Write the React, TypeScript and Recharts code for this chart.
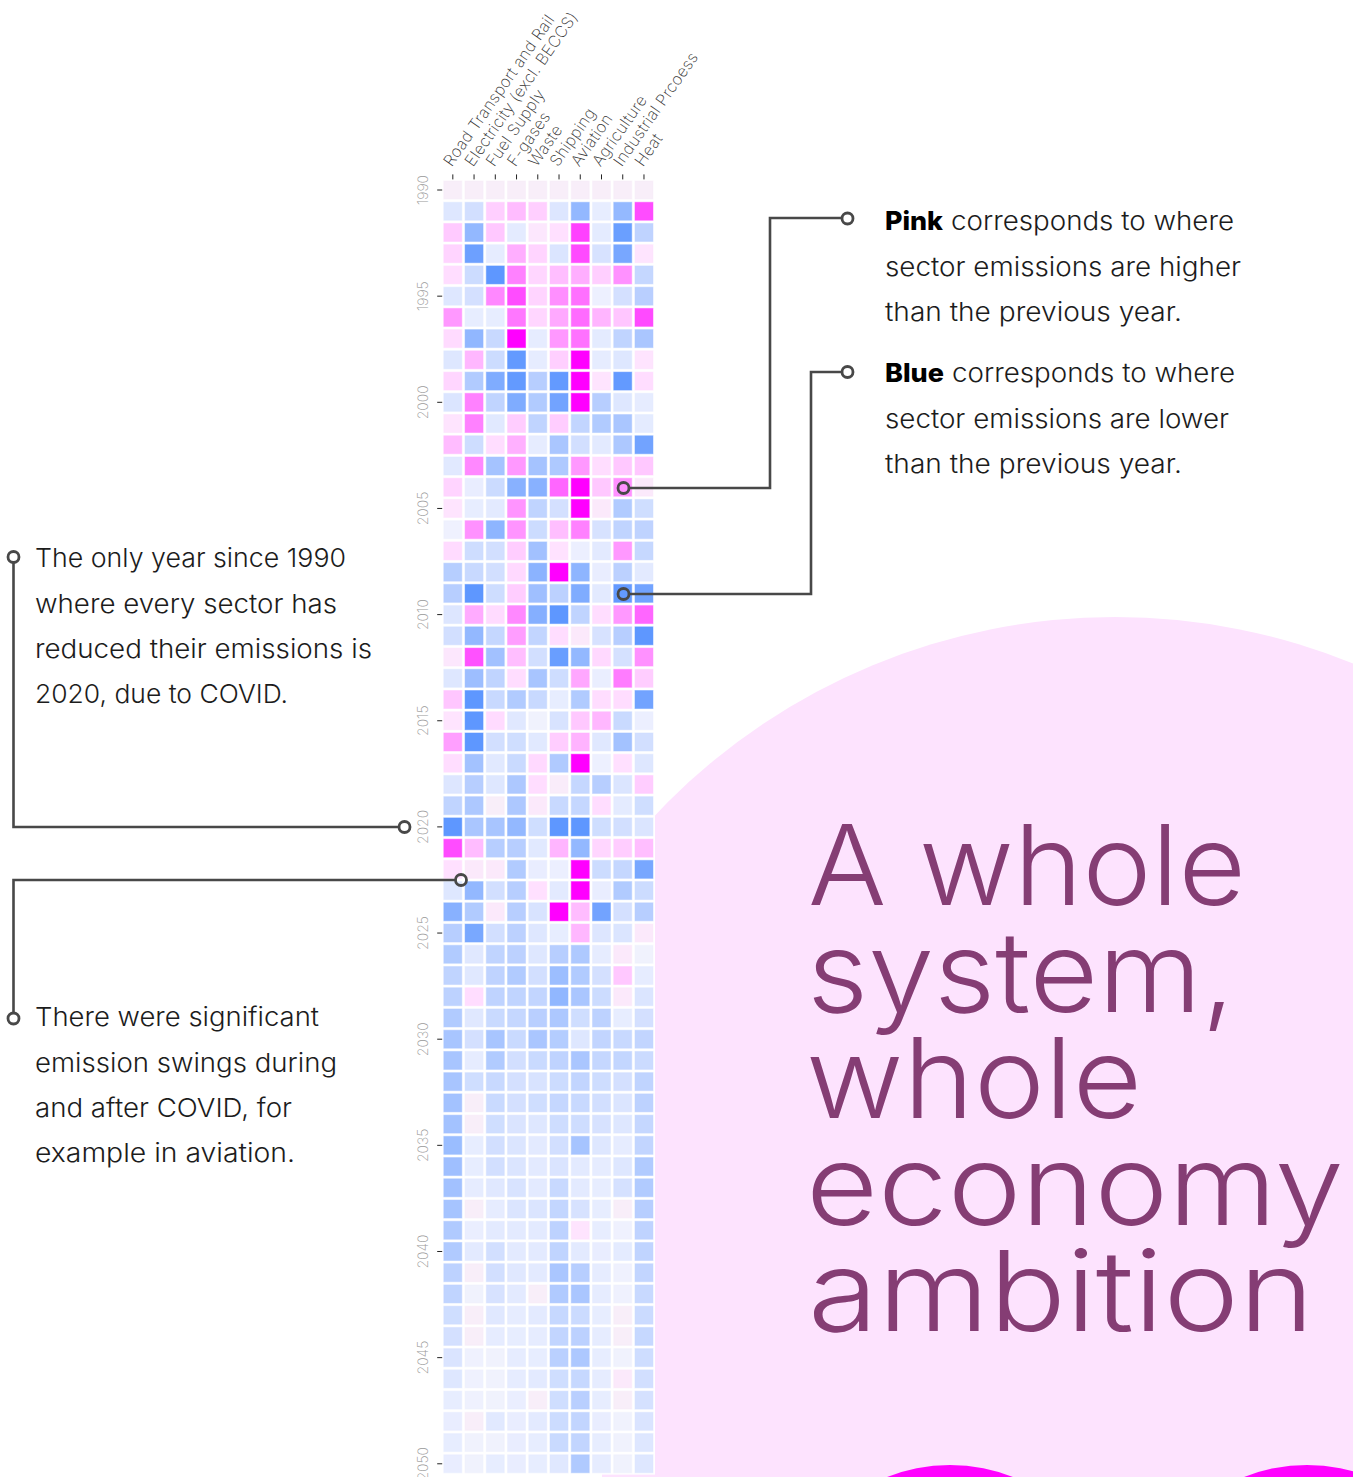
import { ScatterChart, Scatter, XAxis, YAxis } from 'recharts';

const sectors = [
  'Road Transport and Rail', 'Electricity (excl. BECCS)', 'Fuel Supply', 'F-gases', 'Waste',
  'Shipping', 'Aviation', 'Agriculture', 'Industrial Prcoess', 'Heat',
];
const firstYear = 1990;
const yearTicks = [1990, 1995, 2000, 2005, 2010, 2015, 2020, 2025, 2030, 2035, 2040, 2045, 2050];

// year on year change per sector, -10 (strong fall) to 10 (strong rise)
const changes = [
  [0, 0, 0, 0, 0, 0, 0, 0, 0, 0],
  [-1.5, -2.3, 1.3, 2.1, 1.3, -1.6, -6.5, -0.9, -6.4, 6.8],
  [1.5, -6.5, 1.6, -1.1, 0.3, 0.6, 7.3, -1.1, -9.2, -3.6],
  [1.1, -9, -1, 2.7, 1.1, -1.7, 6.9, -2, -8.3, 0.4],
  [0.7, -2.7, -10, 4.6, 1, 2, 2.7, 1.3, 3.9, -3.2],
  [-1.5, -2.2, 4.3, 6.8, 1.1, 4, 5.3, -0.5, -2.2, -4],
  [3.6, -0.9, -0.9, 5, 1, 2.9, 5.5, 2.4, 1.7, 6.9],
  [0.8, -6.6, -3, 10, -1, 3.6, 5.2, -1.1, -3.5, -5],
  [-1.5, 2.3, -2.7, -9.7, -1, 1.3, 10, -1, -1.5, 0.4],
  [1, -4.5, -7.8, -9.7, -4.1, -9.7, 10, 0.4, -9.7, 0.7],
  [-1.7, 4.6, -3.5, -7.8, -4.5, -8.7, 10, -4.1, -1.5, -1],
  [0.4, 4.6, -1.3, 1.4, -3.5, 1.4, -3.4, -4.5, -5, -1.1],
  [2.1, -2.6, 0.7, 2.6, -1, -5, -2.3, -1.2, -4.8, -8.7],
  [-1.3, 4.3, -5.3, 3.6, -5.3, -4.7, 3.6, 0.7, 1.6, 1.6],
  [1.1, -0.8, -2.8, -7.2, -7.2, 5.7, 10, 1.6, 3.9, 0.2],
  [0.4, -0.9, -1.2, 3.8, -3.5, -2.2, 10, 0.2, -4.5, -2.5],
  [-0.4, 3.9, -6.8, 3.8, -2.7, 2, 4.6, -2, -3.5, -3.6],
  [0.8, -2.6, -2.3, 1.4, -5.5, 0.5, -0.6, -1.2, 3.6, -3.1],
  [-4.2, -3, -2.3, 0.9, -7, 10, -6.8, -0.8, -3.8, -1.2],
  [-4.1, -10, -2.6, 1.4, -5.7, -3.8, -7.8, -1.2, -9.7, -8.7],
  [-1.6, 2.8, 0.8, 4.3, -7.4, -10, -3.5, 0.7, 3.6, 5.7],
  [-2.3, -6.5, -3.2, 3.4, -3.4, 0.7, 0.2, -2, -4.1, -10],
  [0.3, 6.6, -5.5, 2, -2.3, -9.3, -6.5, 0.9, -2.1, 3.9],
  [-1.5, -5.8, -3.5, 0.7, -5.1, -2.6, 3, -0.7, 4.8, 1.4],
  [1.7, -10, -3, -4.5, -3, -0.9, -4.5, 0.7, 0.7, -8.7],
  [0.4, -10, 0.8, -1.4, -0.3, -1.9, 1.6, 2.3, -2.9, -0.6],
  [3.3, -10, -2.3, -2.5, -1.3, 1.4, 2.5, -1.4, -5.4, -2.3],
  [0.7, -5.4, -1.3, -2.9, 0.9, -4.6, 10, -0.5, 0.6, -1.5],
  [-1.6, -4.1, -1.5, -4.8, 0.7, 0.1, -3.2, -4.1, -1.7, 1.4],
  [-3.5, -4.8, 0, -4.8, 0.2, -3, -3.2, 0.7, -1.1, -2.5],
  [-10, -5, -5.1, -6.5, -2.5, -10, -10, -2.5, -2.3, -1.7],
  [6.8, 2.1, -4.1, -4.1, -1.3, 2.4, -6.5, 1, 1.4, 2],
  [0.6, 0.2, 0.2, -4.5, -0.8, -0.6, 10, -2.7, -3.2, -8.3],
  [-1.5, -6.5, -2.3, -4.1, 0.6, -1.2, 10, -0.8, -4.5, -2.7],
  [-7.2, -4.5, 0.2, -4.1, -1.9, 10, 2.1, -8.7, -2.2, -4.1],
  [-4.1, -8.2, -2.3, -3.8, -1.5, -0.9, 2.3, -1.6, -1.7, 0.2],
  [-4.5, -1.4, -3.5, -3.8, -1.5, -4.1, -4.7, -1, 0.2, -0.3],
  [-3.5, -1.4, -3.6, -4.5, -2.3, -5.9, -4.5, -2.2, 1.6, -1],
  [-3.7, 0.7, -3.6, -3.5, -3.4, -6.6, -5, -2.7, 0.2, -1.7],
  [-4.5, -1.4, -2.9, -3.2, -4, -4.8, -2.5, -3.7, -0.9, -2.2],
  [-5.1, -2.2, -5.1, -2.9, -5, -4.3, -1.5, -3.4, -3, -3.4],
  [-5.1, -1, -4.5, -2.3, -2.9, -3.6, -5, -3.2, -3.3, -2.8],
  [-5.1, -2.5, -3, -2.2, -1.9, -2.7, -3.4, -2.6, -2.2, -3.5],
  [-5.4, 0, -2.9, -2.2, -2.5, -3.2, -3, -2.3, -1.7, -3.7],
  [-5.4, 0, -2.5, -1.8, -1.5, -2.6, -2.6, -2, -1.5, -3.2],
  [-6, -0.9, -2.3, -1.7, -1.2, -2.3, -5.2, -1.5, -1, -3.4],
  [-5.7, -0.9, -2.3, -1.7, -1.2, -1.8, -1.2, -1, -1.5, -4.5],
  [-5.5, -1, -1.4, -1.9, -1.2, -3, -1.2, -0.9, -2.1, -4.5],
  [-5.2, 0, -1, -1.7, -1.7, -3.3, -2, -0.9, 0, -4.1],
  [-4.6, -0.7, -1.2, -1.2, -1.2, -3.7, 0.4, -0.9, -0.4, -3.6],
  [-4.6, -1.2, -2.3, -1.2, -1.2, -3.5, -1.2, -0.8, -1.1, -3.5],
  [-3.7, 0, -2.3, -1.4, -1.2, -5, -4.1, -1, -0.4, -3.4],
  [-3.5, -0.3, -2, -1.2, 0, -4.6, -5, -1, -0.4, -3],
  [-2.5, 0, -1.4, -1, -1.2, -3.1, -2.8, -0.9, 0, -2.8],
  [-2.2, 0, -1, -0.9, -1, -3.4, -3.8, -1, 0, -3.1],
  [-1.8, -0.4, -0.3, -1, -0.9, -3.9, -4.8, -0.9, -0.3, -2.6],
  [-1.5, -0.4, -0.3, -1, -1.2, -2.5, -3.1, -1, 0.2, -2.3],
  [-0.9, -0.4, -0.3, -0.7, 0, -2.5, -4, -0.9, 0, -2.1],
  [-0.8, 0, -1.3, -0.8, -1.2, -2.7, -3.4, -0.8, -0.3, -1.8],
  [-0.9, -0.3, -0.3, -0.8, -0.9, -2.9, -3.4, -0.9, -0.3, -1.5],
  [-0.8, -0.3, -0.9, -0.8, -0.9, -1.4, -4.6, -1, -0.3, -1.5],
];

const cells = changes.flatMap((row, r) =>
  row.map((value, col) => ({ col, year: firstYear + r, value })),
);

const sectorIndex = sectors.map((_, i) => i);

const FONT = 'Inter, sans-serif';
const INK = '#1c1c1c';
const LEADER = '#484848';

const cellColor = (v: number) => {
  if (v === 0) return '#f8eef9';
  const t = Math.abs(v) / 10;
  const k = Math.min(1, Math.abs(v) * 2);
  if (v > 0) {
    return `rgb(${248 + 7 * k},${238 * (1 - t)},${249 + 6 * k})`;
  }
  return `rgb(${245 - 151 * t},${245 - 94 * t},${250 + 5 * k})`;
};

const HeatCell = ({ cx, cy, payload }: any) => {
  const color = cellColor(payload.value);
  return (
    <rect
      x={cx - 9}
      y={cy - 9}
      width={18}
      height={18}
      fill={color}
      stroke={color}
      strokeOpacity={0.5}
      strokeWidth={1}
    />
  );
};

const SectorTick = ({ x, y, payload }: any) => (
  <text
    transform={`translate(${x - 1},${y - 5}) rotate(-55)`}
    fontFamily={FONT}
    fontWeight={200}
    fontSize={16}
    letterSpacing={0.3}
    fill="#333"
  >
    {sectors[payload.value]}
  </text>
);

const YearTick = ({ x, y, payload }: any) => (
  <text
    transform={`translate(${x - 7},${y}) rotate(-90)`}
    textAnchor="middle"
    fontFamily={FONT}
    fontWeight={200}
    fontSize={14}
    fill="#999"
  >
    {payload.value}
  </text>
);

const Line = ({ x, y, w, bold, children }: any) => (
  <text
    x={x}
    y={y}
    textLength={w}
    lengthAdjust="spacingAndGlyphs"
    fontFamily={FONT}
    fontWeight={bold ? 800 : 300}
    fontSize={26}
    fill={bold ? '#000' : INK}
  >
    {children}
  </text>
);

const Marker = ({ x, y }: any) => (
  <circle cx={x} cy={y} r={5.5} fill="none" stroke={LEADER} strokeWidth={2.8} />
);

const Leader = ({ d }: any) => <path d={d} fill="none" stroke={LEADER} strokeWidth={2.6} />;

const Title = ({ x, y, w, children }: any) => (
  <text
    x={x}
    y={y}
    textLength={w}
    lengthAdjust="spacingAndGlyphs"
    fontFamily={FONT}
    fontWeight={300}
    fontSize={112}
    fill="#853d74"
  >
    {children}
  </text>
);

const layer = { position: 'absolute', left: 0, top: 0 } as const;

export default function App() {
  return (
    <div style={{ ...layer, width: 1353, height: 1477, overflow: 'hidden', background: '#fff' }}>
      <svg width={1353} height={1477} style={layer}>
        <circle cx={1115} cy={1250} r={633} fill="#fde3fe" />
        <circle cx={950} cy={1636} r={171} fill="#ff00ff" />
        <circle cx={1307} cy={1636} r={171} fill="#ff00ff" />
        <rect x={400} y={0} width={255} height={1474.6} fill="#fff" />
        <rect x={400} y={1474} width={202} height={3} fill="#fff" />
      </svg>

      <div style={layer}>
        <ScatterChart
          width={1353}
          height={1477}
          margin={{ top: 159.4, right: 698.4, bottom: 2.6, left: 402.2 }}
        >
          <XAxis
            type="number"
            dataKey="col"
            orientation="top"
            height={20}
            domain={[-0.5, 9.5]}
            ticks={sectorIndex}
            interval={0}
            axisLine={false}
            tickSize={5}
            tickLine={{ stroke: '#222' }}
            tick={<SectorTick />}
          />
          <YAxis
            type="number"
            dataKey="year"
            width={40}
            reversed
            domain={[firstYear - 0.5, 2050.5]}
            ticks={yearTicks}
            interval={0}
            axisLine={false}
            tickSize={5}
            tickLine={{ stroke: '#222' }}
            tick={<YearTick />}
          />
          <Scatter data={cells} shape={<HeatCell />} isAnimationActive={false} />
        </ScatterChart>
      </div>

      <svg width={1353} height={1477} style={layer}>
        <Leader d="M842 218H770V488H629" />
        <Leader d="M842 372H811V594H629" />
        <Leader d="M13.5 563V827H399" />
        <Leader d="M455 880H13.5V1013" />
        <Marker x={847.5} y={218.5} />
        <Marker x={847.5} y={372} />
        <Marker x={623.5} y={488} />
        <Marker x={623.5} y={594} />
        <Marker x={13.5} y={557} />
        <Marker x={404.5} y={827} />
        <Marker x={461} y={880} />
        <Marker x={13.5} y={1018.5} />

        <Line x={885} y={230} w={58} bold>Pink</Line>
        <Line x={951} y={230} w={283}>corresponds to where</Line>
        <Line x={885} y={276} w={356}>sector emissions are higher</Line>
        <Line x={885} y={321} w={297}>than the previous year.</Line>
        <Line x={885} y={382} w={59} bold>Blue</Line>
        <Line x={952} y={382} w={283}>corresponds to where</Line>
        <Line x={885} y={428} w={344}>sector emissions are lower</Line>
        <Line x={885} y={473} w={297}>than the previous year.</Line>

        <Line x={35} y={567} w={311}>The only year since 1990</Line>
        <Line x={35} y={612.5} w={302}>where every sector has</Line>
        <Line x={35} y={658} w={337}>reduced their emissions is</Line>
        <Line x={35} y={703} w={253}>2020, due to COVID.</Line>
        <Line x={35} y={1026} w={284}>There were significant</Line>
        <Line x={35} y={1071.5} w={302}>emission swings during</Line>
        <Line x={35} y={1117} w={257}>and after COVID, for</Line>
        <Line x={35} y={1162} w={260}>example in aviation.</Line>

        <Title x={808} y={905} w={438}>A whole</Title>
        <Title x={807} y={1012} w={428}>system,</Title>
        <Title x={806} y={1118} w={336}>whole</Title>
        <Title x={806} y={1225} w={538}>economy</Title>
        <Title x={808} y={1331} w={506}>ambition</Title>
      </svg>
    </div>
  );
}
